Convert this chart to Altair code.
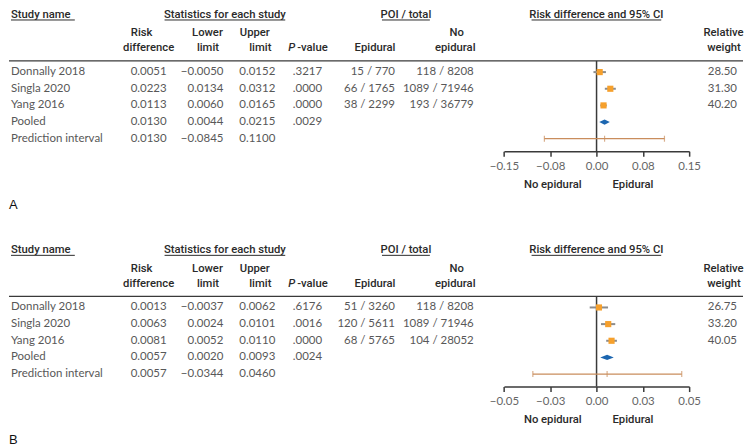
import altair as alt
import pandas as pd

# ---------------- data ----------------
studies = ["Donnally 2018", "Singla 2020", "Yang 2016", "Pooled", "Prediction interval"]

a_rd = [0.0051, 0.0223, 0.0113, 0.0130, 0.0130]
a_lo = [-0.0050, 0.0134, 0.0060, 0.0044, -0.0845]
a_hi = [0.0152, 0.0312, 0.0165, 0.0215, 0.1100]
a_p = [".3217", ".0000", ".0000", ".0029", ""]
a_epi = ["15 / 770", "66 / 1765", "38 / 2299", "", ""]
a_noepi = ["118 / 8208", "1089 / 71946", "193 / 36779", "", ""]
a_wt = ["28.50", "31.30", "40.20", "", ""]
a_ticks = [-0.15, -0.075, 0.0, 0.075, 0.15]

b_rd = [0.0013, 0.0063, 0.0081, 0.0057, 0.0057]
b_lo = [-0.0037, 0.0024, 0.0052, 0.0020, -0.0344]
b_hi = [0.0062, 0.0101, 0.0110, 0.0093, 0.0460]
b_p = [".6176", ".0016", ".0000", ".0024", ""]
b_epi = ["51 / 3260", "120 / 5611", "68 / 5765", "", ""]
b_noepi = ["118 / 8208", "1089 / 71946", "104 / 28052", "", ""]
b_wt = ["26.75", "33.20", "40.05", "", ""]
b_ticks = [-0.05, -0.025, 0.0, 0.025, 0.05]

# ---------------- layout / style ----------------
W = 736
H = 142
ROW_PX = 16.7
ROW_AXIS = 4.75
ROW_TOP = ROW_AXIS - H / ROW_PX
ROW_HEAD = -3.43
ROW_ULINE = -3.13
ROW_H1 = -2.32
ROW_H2 = -1.42
ROW_SEP = -0.67
ROW_DIR = 6.78
ROW_TAG = 7.98

COL_X = {"study": 2, "rd": 158, "lo": 215, "hi": 267, "p": 314,
         "epi": 387, "noepi": 466, "wt": 730}
FOREST_RANGE = [496.3, 682]

HEAD_FONT = "Roboto"
BODY_FONT = "Lato"
HEAD_COLOR = "#2a2a2a"
BODY_COLOR = "#585858"
HEAD_SIZE = 11.3
BODY_SIZE = 11.5
ORANGE = "#f6a02c"
BLUE = "#1c66b0"
CI_GREY = "#8c8c8c"
PI_COLOR = "#c98d5c"
LINE_COLOR = "#3a3a3a"

head_top = [("Study name", 2, "left"), ("Statistics for each study", 216.5, "center"),
            ("POI / total", 398, "center"), ("Risk difference and 95% CI", 589, "center")]
underlines = [(2, 66), (156, 277), (374, 422), (524, 654)]
head_l1 = [("Risk", 133), ("Lower", 199), ("Upper", 246.5), ("No", 449), ("Relative", 716.5)]
head_l2 = [("difference", 140), ("limit", 199.5), ("limit", 252), ("Epidural", 367),
           ("epidural", 447.5), ("weight", 717)]


def fmt(v):
    return f"{v:.4f}".replace("-", "\u2212")


def panel(tag, rd, lo, hi, pv, epi, noepi, wt, ticks):
    tx = alt.Scale(domain=[0, W], nice=False, zero=False)
    ty = alt.Scale(domain=[ROW_TOP, ROW_AXIS], reverse=True, nice=False, zero=False)
    fx = alt.Scale(domain=[ticks[0], ticks[-1]], range=FOREST_RANGE, nice=False, zero=False)

    def X(f):
        return alt.X(f, scale=tx, axis=None)

    def Y(f):
        return alt.Y(f, scale=ty, axis=None)

    # ---- table body ----
    left_cells, right_cells = [], []
    for i, s in enumerate(studies):
        left_cells.append({"x": COL_X["study"], "row": i, "t": s})
        for key, val in (("rd", fmt(rd[i])), ("lo", fmt(lo[i])), ("hi", fmt(hi[i])),
                         ("p", pv[i]), ("epi", epi[i]), ("noepi", noepi[i]), ("wt", wt[i])):
            if val:
                right_cells.append({"x": COL_X[key], "row": i, "t": val})

    body_left = alt.Chart(pd.DataFrame(left_cells)).mark_text(
        align="left", baseline="middle", font=BODY_FONT, fontSize=BODY_SIZE, color=BODY_COLOR
    ).encode(x=X("x:Q"), y=Y("row:Q"), text="t:N")
    body_right = alt.Chart(pd.DataFrame(right_cells)).mark_text(
        align="right", baseline="middle", font=BODY_FONT, fontSize=BODY_SIZE, color=BODY_COLOR
    ).encode(x=X("x:Q"), y=Y("row:Q"), text="t:N")

    # ---- headers ----
    hc, hl = [], []
    for t, x, a in head_top:
        (hl if a == "left" else hc).append({"x": x, "row": ROW_HEAD, "t": t})
    for t, x in head_l1:
        hc.append({"x": x, "row": ROW_H1, "t": t})
    for t, x in head_l2:
        hc.append({"x": x, "row": ROW_H2, "t": t})
    hl.append({"x": 289, "row": ROW_H2, "t": "-value"})
    hdr_style = dict(baseline="middle", font=HEAD_FONT, fontSize=HEAD_SIZE, color=HEAD_COLOR,
                     fontWeight=500)
    head_center = alt.Chart(pd.DataFrame(hc)).mark_text(align="center", **hdr_style).encode(
        x=X("x:Q"), y=Y("row:Q"), text="t:N")
    head_left = alt.Chart(pd.DataFrame(hl)).mark_text(align="left", **hdr_style).encode(
        x=X("x:Q"), y=Y("row:Q"), text="t:N")
    head_p = alt.Chart(pd.DataFrame([{"x": 287, "row": ROW_H2, "t": "P"}])).mark_text(
        align="right", fontStyle="italic", **hdr_style).encode(x=X("x:Q"), y=Y("row:Q"), text="t:N")

    ul = alt.Chart(pd.DataFrame([{"x": a, "x2": b, "row": ROW_ULINE} for a, b in underlines])).mark_rule(
        color=HEAD_COLOR, strokeWidth=1).encode(x=X("x:Q"), x2="x2:Q", y=Y("row:Q"))
    sep = alt.Chart(pd.DataFrame([{"x": 0, "x2": W, "row": ROW_SEP}])).mark_rule(
        color=LINE_COLOR, strokeWidth=1.2).encode(x=X("x:Q"), x2="x2:Q", y=Y("row:Q"))
    tag_txt = alt.Chart(pd.DataFrame([{"x": 0, "row": ROW_TAG, "t": tag}])).mark_text(
        align="left", baseline="middle", font="Liberation Sans", fontSize=13, color="#111"
    ).encode(x=X("x:Q"), y=Y("row:Q"), text="t:N")

    table = alt.layer(body_left, body_right, head_center, head_left, head_p, ul, sep, tag_txt)

    # ---- forest ----
    axis = alt.Axis(values=ticks, orient="bottom", title=None, grid=False,
                    labelExpr="replace(format(datum.value + (datum.value > 0 ? 1e-9 : (datum.value < 0 ? -1e-9 : 0)), '.2f'), '-', '\u2212')",
                    domainColor=LINE_COLOR, domainWidth=1.5, tickColor=LINE_COLOR, tickWidth=1.5,
                    tickSize=5, labelFont=BODY_FONT, labelFontSize=BODY_SIZE, labelColor="#666",
                    labelPadding=4, labelFlush=False, labelOverlap=False)

    def FX(f):
        return alt.X(f, scale=fx, axis=axis)

    sdf = pd.DataFrame({"row": [0, 1, 2], "rd": rd[:3], "lo": lo[:3], "hi": hi[:3]})
    ci = alt.Chart(sdf).mark_rule(color=CI_GREY, strokeWidth=2).encode(
        x=FX("lo:Q"), x2="hi:Q", y=Y("row:Q"))
    sq = alt.Chart(sdf).mark_square(size=38, color=ORANGE, opacity=1).encode(
        x=FX("rd:Q"), y=Y("row:Q"))

    ddf = pd.DataFrame({"x": [lo[3], rd[3], hi[3]],
                        "y1": [3, 3 - 0.16, 3], "y2": [3, 3 + 0.16, 3]})
    diamond = alt.Chart(ddf).mark_area(color=BLUE, opacity=1, orient="vertical").encode(
        x=FX("x:Q"), y=Y("y1:Q"), y2="y2:Q")

    pdf = pd.DataFrame({"lo": [lo[4]], "hi": [hi[4]], "row": [4]})
    pred = alt.Chart(pdf).mark_rule(color=PI_COLOR, strokeWidth=1.3).encode(
        x=FX("lo:Q"), x2="hi:Q", y=Y("row:Q"))
    ptk = alt.Chart(pd.DataFrame({"x": [lo[4], rd[4], hi[4]], "row": [4, 4, 4]})).mark_tick(
        orient="vertical", size=6, thickness=1.2, color=PI_COLOR).encode(x=FX("x:Q"), y=Y("row:Q"))

    zdf = pd.DataFrame({"x": [0.0], "y1": [ROW_SEP], "y2": [ROW_AXIS]})
    zero = alt.Chart(zdf).mark_rule(color=LINE_COLOR, strokeWidth=1.5).encode(
        x=FX("x:Q"), y=Y("y1:Q"), y2="y2:Q")

    dir_style = dict(baseline="middle", font=HEAD_FONT, fontSize=HEAD_SIZE, color=HEAD_COLOR,
                     fontWeight=500)
    dleft = alt.Chart(pd.DataFrame([{"x": 0.0, "row": ROW_DIR, "t": "No epidural"}])).mark_text(
        align="right", dx=-15, **dir_style).encode(x=FX("x:Q"), y=Y("row:Q"), text="t:N")
    dright = alt.Chart(pd.DataFrame([{"x": 0.0, "row": ROW_DIR, "t": "Epidural"}])).mark_text(
        align="left", dx=16, **dir_style).encode(x=FX("x:Q"), y=Y("row:Q"), text="t:N")

    forest = alt.layer(zero, ci, sq, diamond, pred, ptk, dleft, dright)

    return alt.layer(table, forest).resolve_scale(x="independent").properties(width=W, height=H)


pA = panel("A", a_rd, a_lo, a_hi, a_p, a_epi, a_noepi, a_wt, a_ticks)
pB = panel("B", b_rd, b_lo, b_hi, b_p, b_epi, b_noepi, b_wt, b_ticks)

chart = alt.vconcat(pA, pB, spacing=32).properties(
    padding=0, background="white"
).configure_view(stroke=None)

chart.save("out.html", embed_options={"renderer": "svg", "actions": False})
